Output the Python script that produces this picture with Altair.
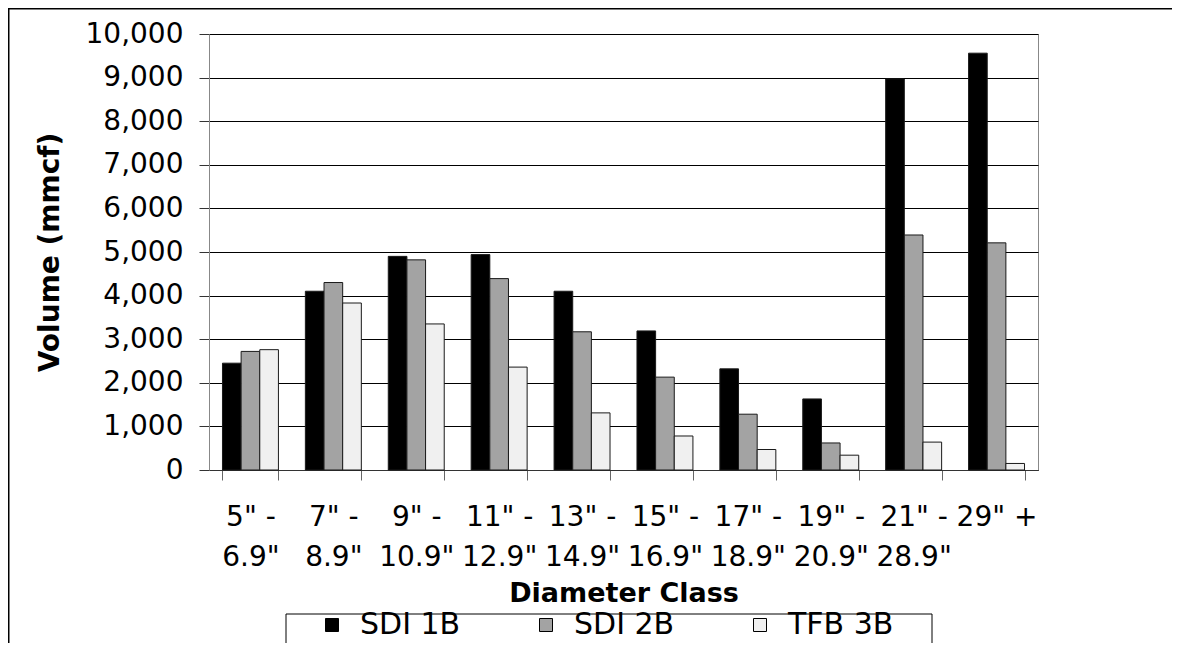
import altair as alt
import pandas as pd

categories = ['5" - 6.9"', '7" - 8.9"', '9" - 10.9"', '11" - 12.9"', '13" - 14.9"',
              '15" - 16.9"', '17" - 18.9"', '19" - 20.9"', '21" - 28.9"', '29" +']
sdi_1b = [2450, 4100, 4900, 4940, 4100, 3190, 2320, 1630, 8970, 9560]
sdi_2b = [2720, 4300, 4820, 4390, 3170, 2130, 1280, 620, 5390, 5210]
tfb_3b = [2760, 3830, 3350, 2360, 1310, 780, 470, 340, 640, 150]
series = ["SDI 1B", "SDI 2B", "TFB 3B"]
colors = ["#000000", "#a3a3a3", "#f0f0f0"]
y_ticks = list(range(0, 10001, 1000))

rows = []
for name, vals in zip(series, [sdi_1b, sdi_2b, tfb_3b]):
    for c, v in zip(categories, vals):
        rows.append({"cat": c, "series": name, "value": v})
df = pd.DataFrame(rows)

FONT = "DejaVu Sans"
label_expr = ("indexof(datum.label, ' - ') > 0 ? "
              "[substring(datum.label, 0, indexof(datum.label, ' - ') + 2), "
              "substring(datum.label, indexof(datum.label, ' - ') + 3)] : datum.label")

W, H = 829, 436
PAD = {"left": 201, "top": 26, "right": 134, "bottom": 173}

bars = alt.Chart(df).mark_bar(stroke="#1a1a1a", strokeWidth=1).encode(
    x=alt.X("cat:N", sort=categories,
            scale=alt.Scale(paddingInner=0.325, paddingOuter=0.1625),
            axis=alt.Axis(title="Diameter Class", labelExpr=label_expr, labelAngle=0,
                          tickBand="extent", labelFont=FONT, labelFontSize=28,
                          labelLineHeight=40, labelPadding=23, labelColor="black",
                          labelOverlap=False, labelBaseline="top",
                          tickSize=10, tickColor="#666", domainColor="#333",
                          titleFont=FONT, titleFontSize=27, titleFontWeight="bold",
                          titleColor="black", titlePadding=9)),
    xOffset=alt.XOffset("series:N", sort=series,
                        scale=alt.Scale(paddingInner=0, paddingOuter=0)),
    y=alt.Y("value:Q", scale=alt.Scale(domain=[0, 10000], nice=False),
            axis=alt.Axis(values=y_ticks, format=",d", title="Volume (mmcf)",
                          labelFont=FONT, labelFontSize=28, labelColor="black",
                          labelPadding=16, tickSize=10, tickColor="#333",
                          domainColor="#888", grid=True, gridColor="black",
                          gridWidth=1, titleFont=FONT, titleFontSize=28,
                          titleFontWeight="bold", titleColor="black",
                          titlePadding=21)),
    color=alt.Color("series:N", sort=series,
                    scale=alt.Scale(domain=series, range=colors),
                    legend=alt.Legend(orient="none", legendX=108, legendY=576,
                                      direction="horizontal", title=None,
                                      symbolType="square", symbolSize=169,
                                      symbolStrokeColor="black", symbolStrokeWidth=1,
                                      labelFont=FONT, labelFontSize=30,
                                      labelColor="black", columnPadding=70,
                                      labelOffset=13, padding=0)),
)

one = pd.DataFrame({"k": [0]})
frame_top = alt.Chart(one).mark_rect(color="black", strokeWidth=0).encode(
    x=alt.value(-PAD["left"]), x2=alt.value(W + PAD["right"]),
    y=alt.value(-PAD["top"]), y2=alt.value(-PAD["top"] + 1.5))
frame_left = alt.Chart(one).mark_rect(color="black", strokeWidth=0).encode(
    x=alt.value(-PAD["left"]), x2=alt.value(-PAD["left"] + 1.5),
    y=alt.value(-PAD["top"]), y2=alt.value(H + PAD["bottom"]))
legend_box = alt.Chart(one).mark_rect(filled=False, stroke="black", strokeWidth=1).encode(
    x=alt.value(77), x2=alt.value(723), y=alt.value(580), y2=alt.value(H + PAD["bottom"] + 5))

chart = alt.layer(frame_top, frame_left, legend_box, bars).properties(
    width=W, height=H,
    padding=PAD,
    autosize=alt.AutoSizeParams(type="none"),
).configure_view(stroke="#888", strokeWidth=1)

chart.save("out.html", embed_options={"renderer": "svg", "actions": False})
